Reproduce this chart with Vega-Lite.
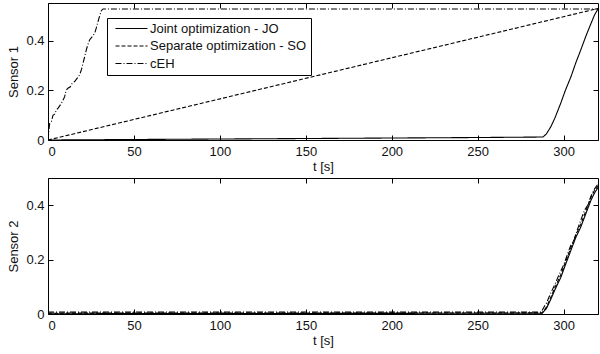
{
  "$schema": "https://vega.github.io/schema/vega-lite/v6.json",
  "padding": {"left": 7, "top": 2, "right": 0, "bottom": 0},
  "background": "white",
  "config": {
    "view": {"stroke": "black", "strokeWidth": 1},
    "font": "Liberation Sans",
    "axis": {
      "labelFont": "Liberation Sans", "labelFontSize": 13, "labelColor": "#111",
      "titleFont": "Liberation Sans", "titleFontSize": 13, "titleFontWeight": "normal", "titleColor": "#111",
      "grid": false, "domain": false, "tickColor": "black", "tickSize": -5, "tickWidth": 1,
      "labelPadding": 10, "titlePadding": 2
    },
    "legend": {
      "labelFont": "Liberation Sans", "labelFontSize": 13, "labelColor": "#111"
    }
  },
  "datasets": {
    "s1": [
      {"t": 0, "v": 0, "s": "Joint optimization - JO"},
      {"t": 50, "v": 0.002, "s": "Joint optimization - JO"},
      {"t": 100, "v": 0.004, "s": "Joint optimization - JO"},
      {"t": 150, "v": 0.006, "s": "Joint optimization - JO"},
      {"t": 200, "v": 0.008, "s": "Joint optimization - JO"},
      {"t": 250, "v": 0.01, "s": "Joint optimization - JO"},
      {"t": 288, "v": 0.012, "s": "Joint optimization - JO"},
      {"t": 290, "v": 0.025, "s": "Joint optimization - JO"},
      {"t": 292.6, "v": 0.054, "s": "Joint optimization - JO"},
      {"t": 295, "v": 0.09, "s": "Joint optimization - JO"},
      {"t": 298.4, "v": 0.15, "s": "Joint optimization - JO"},
      {"t": 301, "v": 0.2, "s": "Joint optimization - JO"},
      {"t": 304.3, "v": 0.256, "s": "Joint optimization - JO"},
      {"t": 307, "v": 0.31, "s": "Joint optimization - JO"},
      {"t": 310, "v": 0.364, "s": "Joint optimization - JO"},
      {"t": 313, "v": 0.42, "s": "Joint optimization - JO"},
      {"t": 315.9, "v": 0.47, "s": "Joint optimization - JO"},
      {"t": 318, "v": 0.505, "s": "Joint optimization - JO"},
      {"t": 320, "v": 0.529, "s": "Joint optimization - JO"},
      {"t": 0, "v": 0, "s": "Separate optimization - SO"},
      {"t": 320, "v": 0.531, "s": "Separate optimization - SO"},
      {"t": 0, "v": 0, "s": "cEH"},
      {"t": 0.5, "v": 0.04, "s": "cEH"},
      {"t": 1, "v": 0.067, "s": "cEH"},
      {"t": 2, "v": 0.075, "s": "cEH"},
      {"t": 2.9, "v": 0.1, "s": "cEH"},
      {"t": 4, "v": 0.105, "s": "cEH"},
      {"t": 4.8, "v": 0.12, "s": "cEH"},
      {"t": 6, "v": 0.13, "s": "cEH"},
      {"t": 7.8, "v": 0.148, "s": "cEH"},
      {"t": 8.7, "v": 0.16, "s": "cEH"},
      {"t": 9.7, "v": 0.175, "s": "cEH"},
      {"t": 10.5, "v": 0.2, "s": "cEH"},
      {"t": 11.6, "v": 0.209, "s": "cEH"},
      {"t": 13, "v": 0.215, "s": "cEH"},
      {"t": 14, "v": 0.228, "s": "cEH"},
      {"t": 15.5, "v": 0.236, "s": "cEH"},
      {"t": 17, "v": 0.25, "s": "cEH"},
      {"t": 18.4, "v": 0.263, "s": "cEH"},
      {"t": 19.5, "v": 0.285, "s": "cEH"},
      {"t": 20.4, "v": 0.31, "s": "cEH"},
      {"t": 21.3, "v": 0.335, "s": "cEH"},
      {"t": 22.3, "v": 0.364, "s": "cEH"},
      {"t": 23.2, "v": 0.385, "s": "cEH"},
      {"t": 24.2, "v": 0.404, "s": "cEH"},
      {"t": 25.5, "v": 0.415, "s": "cEH"},
      {"t": 27.2, "v": 0.431, "s": "cEH"},
      {"t": 28.2, "v": 0.455, "s": "cEH"},
      {"t": 29.1, "v": 0.478, "s": "cEH"},
      {"t": 30, "v": 0.5, "s": "cEH"},
      {"t": 31, "v": 0.522, "s": "cEH"},
      {"t": 32, "v": 0.529, "s": "cEH"},
      {"t": 320, "v": 0.529, "s": "cEH"}
    ],
    "s2": [
      {"t": 0, "v": 0.001, "s": "Joint optimization - JO"},
      {"t": 287.5, "v": 0.003, "s": "Joint optimization - JO"},
      {"t": 290, "v": 0.02, "s": "Joint optimization - JO"},
      {"t": 292.6, "v": 0.055, "s": "Joint optimization - JO"},
      {"t": 295, "v": 0.09, "s": "Joint optimization - JO"},
      {"t": 298.4, "v": 0.135, "s": "Joint optimization - JO"},
      {"t": 301, "v": 0.18, "s": "Joint optimization - JO"},
      {"t": 304.3, "v": 0.235, "s": "Joint optimization - JO"},
      {"t": 307, "v": 0.28, "s": "Joint optimization - JO"},
      {"t": 310, "v": 0.32, "s": "Joint optimization - JO"},
      {"t": 313, "v": 0.37, "s": "Joint optimization - JO"},
      {"t": 315.9, "v": 0.418, "s": "Joint optimization - JO"},
      {"t": 318, "v": 0.445, "s": "Joint optimization - JO"},
      {"t": 320, "v": 0.465, "s": "Joint optimization - JO"},
      {"t": 0, "v": 0.003, "s": "Separate optimization - SO"},
      {"t": 287.5, "v": 0.004, "s": "Separate optimization - SO"},
      {"t": 290, "v": 0.025, "s": "Separate optimization - SO"},
      {"t": 292.6, "v": 0.062, "s": "Separate optimization - SO"},
      {"t": 295, "v": 0.098, "s": "Separate optimization - SO"},
      {"t": 298.4, "v": 0.145, "s": "Separate optimization - SO"},
      {"t": 301, "v": 0.19, "s": "Separate optimization - SO"},
      {"t": 304.3, "v": 0.245, "s": "Separate optimization - SO"},
      {"t": 307, "v": 0.29, "s": "Separate optimization - SO"},
      {"t": 310, "v": 0.33, "s": "Separate optimization - SO"},
      {"t": 313, "v": 0.38, "s": "Separate optimization - SO"},
      {"t": 315.9, "v": 0.428, "s": "Separate optimization - SO"},
      {"t": 318, "v": 0.455, "s": "Separate optimization - SO"},
      {"t": 320, "v": 0.47, "s": "Separate optimization - SO"},
      {"t": 0, "v": 0.007, "s": "cEH"},
      {"t": 287, "v": 0.007, "s": "cEH"},
      {"t": 289, "v": 0.03, "s": "cEH"},
      {"t": 290, "v": 0.04, "s": "cEH"},
      {"t": 292, "v": 0.07, "s": "cEH"},
      {"t": 295, "v": 0.11, "s": "cEH"},
      {"t": 297, "v": 0.14, "s": "cEH"},
      {"t": 300, "v": 0.18, "s": "cEH"},
      {"t": 302, "v": 0.215, "s": "cEH"},
      {"t": 304, "v": 0.25, "s": "cEH"},
      {"t": 306, "v": 0.27, "s": "cEH"},
      {"t": 308, "v": 0.31, "s": "cEH"},
      {"t": 310, "v": 0.345, "s": "cEH"},
      {"t": 312, "v": 0.38, "s": "cEH"},
      {"t": 314, "v": 0.4, "s": "cEH"},
      {"t": 316, "v": 0.435, "s": "cEH"},
      {"t": 318, "v": 0.46, "s": "cEH"},
      {"t": 320, "v": 0.478, "s": "cEH"}
    ]
  },
  "spacing": 38,
  "bounds": "flush",
  "vconcat": [
    {
      "width": 550, "height": 137,
      "data": {"name": "s1"},
      "layer": [
        {
          "mark": {"type": "line", "color": "black", "strokeWidth": 1.1, "clip": true},
          "encoding": {
            "x": {"field": "t", "type": "quantitative", "scale": {"domain": [0, 320], "nice": false}, "axis": {"values": [0, 50, 100, 150, 200, 250, 300], "title": "t [s]"}},
            "y": {"field": "v", "type": "quantitative", "scale": {"domain": [0, 0.553], "nice": false}, "axis": {"values": [0, 0.2, 0.4], "format": "~g", "title": "Sensor 1", "labelPadding": 9, "titlePadding": 5}},
            "strokeDash": {
              "field": "s", "type": "nominal",
              "scale": {"domain": ["Joint optimization - JO", "Separate optimization - SO", "cEH"], "range": [[1, 0], [4, 2], [6, 2, 1, 2]]},
              "legend": {"title": null, "orient": "none", "legendX": 59, "legendY": 15, "strokeColor": "black", "fillColor": "white", "padding": 4, "symbolType": "M-0.67,0H10", "symbolSize": 36, "symbolStrokeColor": "black", "symbolStrokeWidth": 1.1, "labelOffset": 26, "rowPadding": 3.5, "labelBaseline": "middle"}
            }
          }
        },
        {
          "mark": {"type": "line", "opacity": 0},
          "encoding": {
            "x": {"field": "t", "type": "quantitative", "axis": {"orient": "top", "labels": false, "title": null, "values": [0, 50, 100, 150, 200, 250, 300]}},
            "y": {"field": "v", "type": "quantitative", "axis": {"orient": "right", "labels": false, "title": null, "values": [0, 0.2, 0.4]}}
          }
        }
      ],
      "resolve": {"axis": {"x": "independent", "y": "independent"}}
    },
    {
      "width": 550, "height": 136,
      "data": {"name": "s2"},
      "layer": [
        {
          "mark": {"type": "line", "color": "black", "strokeWidth": 1.1, "clip": true},
          "encoding": {
            "x": {"field": "t", "type": "quantitative", "scale": {"domain": [0, 320], "nice": false}, "axis": {"values": [0, 50, 100, 150, 200, 250, 300], "title": "t [s]"}},
            "y": {"field": "v", "type": "quantitative", "scale": {"domain": [0, 0.5], "nice": false}, "axis": {"values": [0, 0.2, 0.4], "format": "~g", "title": "Sensor 2", "labelPadding": 9, "titlePadding": 5}},
            "strokeDash": {
              "field": "s", "type": "nominal",
              "scale": {"domain": ["Joint optimization - JO", "Separate optimization - SO", "cEH"], "range": [[1, 0], [4, 2], [6, 2, 1, 2]]},
              "legend": null
            }
          }
        },
        {
          "mark": {"type": "line", "opacity": 0},
          "encoding": {
            "x": {"field": "t", "type": "quantitative", "axis": {"orient": "top", "labels": false, "title": null, "values": [0, 50, 100, 150, 200, 250, 300]}},
            "y": {"field": "v", "type": "quantitative", "axis": {"orient": "right", "labels": false, "title": null, "values": [0, 0.2, 0.4]}}
          }
        }
      ],
      "resolve": {"axis": {"x": "independent", "y": "independent"}}
    }
  ],
  "resolve": {"scale": {"strokeDash": "independent"}, "legend": {"strokeDash": "independent"}}
}
